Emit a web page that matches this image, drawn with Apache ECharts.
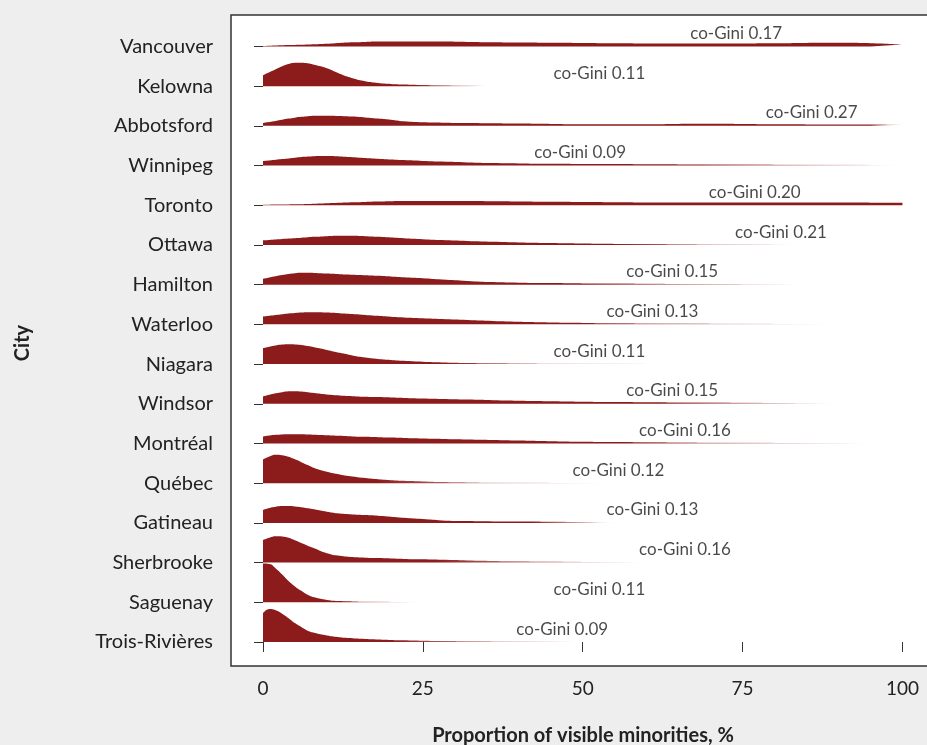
<!DOCTYPE html>
<html>
<head>
<meta charset="utf-8">
<script src="https://cdn.jsdelivr.net/npm/echarts@6/dist/echarts.min.js"></script>
<style>
  html, body { margin: 0; padding: 0; background: #eeeeee; }
  #chart { width: 927px; height: 745px; }
</style>
</head>
<body>
<div id="chart"></div>
<script>
// ---- Data (top row first) ----
const cities = ['Vancouver','Kelowna','Abbotsford','Winnipeg','Toronto','Ottawa','Hamilton','Waterloo','Niagara','Windsor','Montréal','Québec','Gatineau','Sherbrooke','Saguenay','Trois-Rivières'];
const coGini = ['0.17','0.11','0.27','0.09','0.20','0.21','0.15','0.13','0.11','0.15','0.16','0.12','0.13','0.16','0.11','0.09'];
const labelX = [74.0,52.6,85.8,49.6,76.9,81.0,64.0,60.9,52.6,64.0,66.0,55.6,60.9,66.0,52.6,46.8];
const xTicks = [0, 25, 50, 75, 100];
const xGrid = [0,1,2,3,4,5,6,7,8,10,12,14,16,18,20,22,25,28,32,36,40,45,50,55,60,65,70,75,80,85,90,95,100];

// ridge heights (row spacing = 40)
const hVancouver  = [0.5,0.8,1,1.2,1.4,1.55,1.7,1.95,2.2,2.8,3.6,4.2,4.6,4.9,5,5,5,4.9,4.6,4.3,4,3.8,3.6,3.3,3.1,3,3,3.1,3.3,3.6,3.7,3.3,2];
const hKelowna    = [11,14,17,20,22.3,23.5,23.7,23,21.5,18,12.5,8,5,3.3,2.3,1.7,1.2,0.9,0.6,0.3,0,0,0,0,0,0,0,0,0,0,0,0,0];
const hAbbotsford = [3,4,5,6.2,7.3,8.3,9.1,9.7,10.1,10.3,10,9.4,8.5,7.4,6.2,4.6,3.6,3.2,2.9,2.6,2.3,2,1.7,1.6,1.7,2,2.1,1.9,1.6,1.5,1.5,1.3,1];
const hWinnipeg   = [4.7,5.2,5.8,6.5,7.2,7.9,8.6,9.1,9.5,9.6,9.2,8.5,7.7,6.9,6.1,5.5,4.7,4,3.2,2.6,2.2,1.9,1.7,1.5,1.3,1.2,1.1,1,0.9,0.8,0.7,0.6,0.5];
const hToronto    = [0.5,0.6,0.7,0.75,0.8,0.9,1,1.2,1.5,2,2.5,3,3.4,3.7,4,4.2,4.3,4.3,4.2,4,3.8,3.5,3.3,3.1,2.9,2.8,2.7,2.7,2.7,2.7,2.7,2.6,2.5];
const hOttawa     = [4.7,5.1,5.5,5.9,6.4,6.8,7.3,7.8,8.2,8.9,9.3,9.2,8.8,8.2,7.5,6.8,5.8,4.9,4,3.2,2.6,2,1.5,1.1,0.9,0.7,0.5,0.4,0.3,0.2,0,0,0];
const hHamilton   = [6,7.3,8.5,9.7,10.8,11.6,12,12,11.8,11.2,10.6,10.1,9.6,9,8.3,7.5,6.5,5.2,3.8,2.6,2,1.6,1.3,1.1,0.9,0.7,0.6,0.5,0.4,0.3,0,0,0];
const hWaterloo   = [7.7,8.6,9.5,10.3,11,11.5,11.9,12.2,12.3,12,11.3,10.4,9.5,8.6,7.7,7,6.2,5.4,4.4,3.4,2.6,1.9,1.5,1.2,1,0.8,0.7,0.6,0.5,0.4,0.3,0,0];
const hNiagara    = [16,17.5,18.8,19.6,20,19.8,19.2,18.2,17,14.3,11.3,8.7,6.6,5.2,4.2,3.3,2.3,1.6,1.1,0.8,0.6,0.4,0.3,0.2,0.1,0,0,0,0,0,0,0,0];
const hWindsor    = [7.3,9,10.5,11.7,12.5,12.7,12.3,11.6,10.8,9.4,8.4,7.7,7.1,6.7,6.3,5.9,5.3,4.8,4.2,3.6,3.1,2.6,2.1,1.8,1.6,1.4,1.2,1,0.8,0.6,0.4,0.2,0];
const hMontreal   = [7,8,8.7,9.1,9.3,9.3,9.2,9,8.8,8.3,7.7,7.1,6.7,6.3,5.9,5.5,5,4.6,4.1,3.6,3,2.3,1.7,1.4,1.2,1,0.8,0.7,0.6,0.5,0.4,0.3,0.2];
const hQuebec     = [24,27,28.7,28.2,26.5,24,21.2,18.2,15.3,11.5,8.8,6.7,5.1,3.9,3,2.4,1.7,1.1,0.7,0.5,0.4,0.3,0.2,0.1,0,0,0,0,0,0,0,0,0];
const hGatineau   = [13,15,16.3,16.9,17,16.6,15.8,14.8,13.7,11.2,9.4,8.5,7.9,7.2,6.2,5.1,3.8,2.5,1.8,1.5,1.3,1.1,0.8,0.5,0.2,0,0,0,0,0,0,0,0];
const hSherbrooke = [22.7,25,26.5,26.4,25,22.5,19.7,17,14.5,9.5,6.8,5.5,4.9,4.5,4.1,3.7,3.3,2.8,2.2,1.7,1.3,1,0.7,0.5,0.3,0,0,0,0,0,0,0,0];
const hSaguenay   = [39,38.5,34,28,21.5,16,11.5,7.5,5,2.3,1.2,0.8,0.6,0.5,0.4,0.3,0.2,0.1,0,0,0,0,0,0,0,0,0,0,0,0,0,0,0];
const hTrois      = [29,33.3,32,28.5,24,19,15,11.3,9.2,6.5,4.8,3.8,3.1,2.6,2.1,1.7,1.2,0.9,0.7,0.6,0.5,0.4,0.2,0,0,0,0,0,0,0,0,0,0];

const heights = [hVancouver,hKelowna,hAbbotsford,hWinnipeg,hToronto,hOttawa,hHamilton,hWaterloo,hNiagara,hWindsor,hMontreal,hQuebec,hGatineau,hSherbrooke,hSaguenay,hTrois];
const fadeStart = [100,24,95,68,100,55,50,50,28,62,56,18,42,27,13,20];
const fadeEnd   = [100,37,100,100,100,86,86,92,65,93,99,55,57,60,27,50];
const fadeEndAlpha = [1,0,0.3,0,1,0,0,0,0,0,0,0,0,0,0,0];

const ROW = 40;
const N = cities.length;
const RED = [140, 28, 28];
const rgba = a => `rgba(${RED[0]},${RED[1]},${RED[2]},${a})`;
const FONT = 'Lato, "Source Sans Pro", "Noto Sans", sans-serif';

const series = [];
cities.forEach((c, i) => {
  const base = (N - 1 - i) * ROW;
  const data = [];
  xGrid.forEach((x, k) => { if (x <= fadeEnd[i]) data.push([x, base + heights[i][k]]); });
  const lastX = data[data.length - 1][0];
  const fs = Math.min(fadeStart[i] / lastX, 1);
  const grad = new echarts.graphic.LinearGradient(0, 0, 1, 0, [
    { offset: 0, color: rgba(1) },
    { offset: fs, color: rgba(1) },
    { offset: 1, color: rgba(fadeEndAlpha[i]) }
  ]);
  series.push({
    type: 'line',
    name: c,
    data: data,
    smooth: 0.5,
    symbol: 'none',
    lineStyle: { width: 0 },
    areaStyle: { origin: base, color: grad, opacity: 1 },
    silent: true,
    z: 2 + i
  });
});

series.push({
  type: 'scatter',
  symbolSize: 0,
  silent: true,
  z: 30,
  data: cities.map((c, i) => [labelX[i], (N - 1 - i) * ROW + 13]),
  label: {
    show: true,
    position: 'inside',
    formatter: p => 'co-Gini ' + coGini[p.dataIndex],
    color: '#1a1a1a',
    fontSize: 17,
    fontFamily: FONT
  }
});

const yVals = cities.map((c, i) => (N - 1 - i) * ROW);

const chart = echarts.init(document.getElementById('chart'), null, { renderer: 'canvas' });
chart.setOption({
  backgroundColor: '#eeeeee',
  animation: false,
  grid: {
    left: 231, top: 15, right: -13, bottom: 79,
    outerBoundsMode: 'none',
    containLabel: false,
    show: true, backgroundColor: '#ffffff', borderColor: '#333333', borderWidth: 1.5
  },
  xAxis: {
    type: 'value',
    min: -5, max: 105.87,
    axisLine: { show: false },
    splitLine: { show: false },
    axisTick: { show: true, customValues: xTicks, length: 10, lineStyle: { color: '#333', width: 1 } },
    axisLabel: { customValues: xTicks, margin: 13, fontSize: 19, color: '#222', fontFamily: FONT },
    name: 'Proportion of visible minorities, %',
    nameLocation: 'middle',
    nameGap: 60,
    nameTextStyle: { fontSize: 20, fontWeight: 'bold', color: '#222', fontFamily: FONT, padding: [0, 5, 0, 0] }
  },
  yAxis: {
    type: 'value',
    min: -24.2, max: 631.7,
    axisLine: { show: false },
    splitLine: { show: false },
    axisTick: { show: true, customValues: yVals, length: 9, lineStyle: { color: '#333', width: 1 } },
    axisLabel: {
      customValues: yVals, margin: 18, fontSize: 20, color: '#222', fontFamily: FONT,
      formatter: v => cities[N - 1 - Math.round(v / ROW)]
    },
    name: 'City',
    nameLocation: 'middle',
    nameRotate: 90,
    nameGap: 198,
    nameTextStyle: { fontSize: 20, fontWeight: 'bold', color: '#222', fontFamily: FONT, padding: [0, 5, 0, 0] }
  },
  series: series
});
</script>
</body>
</html>
